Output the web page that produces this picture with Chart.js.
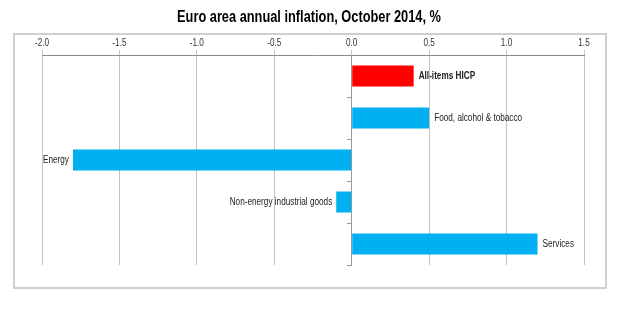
<!DOCTYPE html>
<html>
<head>
<meta charset="utf-8">
<title>Euro area annual inflation</title>
<script src="https://cdn.jsdelivr.net/npm/chart.js@4/dist/chart.umd.min.js"></script>
<style>
  html, body { margin: 0; padding: 0; background: #fff; }
  #wrap { width: 620px; height: 322px; }
</style>
</head>
<body>
<div id="wrap"><canvas id="inflationChart" width="620" height="322"></canvas></div>
<script>
"use strict";

let chartTitle = "Euro area annual inflation, October 2014, %";
let categories = ["All-items HICP", "Food, alcohol & tobacco", "Energy", "Non-energy industrial goods", "Services"];
let rates = [0.4, 0.5, -1.8, -0.1, 1.2];
let barColors = ["#ff0000", "#00b0f0", "#00b0f0", "#00b0f0", "#00b0f0"];
let xTicks = [-2.0, -1.5, -1.0, -0.5, 0.0, 0.5, 1.0, 1.5];

let fontFamily = "'Liberation Sans', Arial, sans-serif";

// no narrow face installed, so squeeze the text sideways instead
function narrowText(ctx, text, x, y, align, squeeze) {
  ctx.save();
  ctx.translate(x, y);
  ctx.scale(squeeze, 1);
  ctx.textAlign = align;
  ctx.fillText(text, 0, 0);
  ctx.restore();
}

// grey box round the plot, and the title above it
let frameBox = {
  id: "frameBox",
  beforeDraw(chart) {
    let ctx = chart.ctx;
    ctx.save();
    ctx.strokeStyle = "#cfcfcf";
    ctx.lineWidth = 2;
    ctx.strokeRect(14, 34, 592, 254);
    ctx.fillStyle = "#000";
    ctx.font = "bold 16px " + fontFamily;
    ctx.textBaseline = "alphabetic";
    narrowText(ctx, chartTitle, 309, 22, "center", 0.8);
    ctx.restore();
  }
};

// x tick labels along the top, and category names at the end of each bar
let narrowLabels = {
  id: "narrowLabels",
  afterDatasetsDraw(chart) {
    let ctx = chart.ctx;
    let xScale = chart.scales.x;
    let bars = chart.getDatasetMeta(0).data;
    ctx.save();
    ctx.textBaseline = "middle";

    ctx.fillStyle = "#333";
    ctx.font = "10px " + fontFamily;
    xTicks.forEach(function (v) {
      narrowText(ctx, v.toFixed(1), xScale.getPixelForValue(v), 43, "center", 0.82);
    });

    ctx.fillStyle = "#222";
    bars.forEach(function (bar, i) {
      ctx.font = (i === 0 ? "bold " : "") + "10px " + fontFamily;
      if (rates[i] >= 0) {
        narrowText(ctx, categories[i], bar.x + 5, bar.y, "left", 0.82);
      } else {
        narrowText(ctx, categories[i], bar.x - 4, bar.y, "right", 0.82);
      }
    });
    ctx.restore();
  }
};

let ctx = document.getElementById("inflationChart").getContext("2d");
let inflationChart = new Chart(ctx, {
  type: "bar",
  data: {
    labels: categories,
    datasets: [
      {
        data: rates,
        backgroundColor: barColors,
        borderWidth: 0,
        categoryPercentage: 1,
        barPercentage: 0.5,
      },
    ],
  },
  options: {
    indexAxis: "y",
    responsive: false,
    animation: false,
    layout: {
      padding: { left: 42, right: 36, top: 34, bottom: 57 },
    },
    plugins: {
      legend: { display: false },
      tooltip: { enabled: false },
      title: { display: false },
    },
    scales: {
      x: {
        position: "top",
        min: -2,
        max: 1.5,
        afterBuildTicks(axis) {
          axis.ticks = xTicks.map(function (v) { return { value: v }; });
        },
        ticks: {
          color: "rgba(0,0,0,0)",
          font: { family: fontFamily, size: 10 },
          padding: 2,
          maxRotation: 0,
          callback(value) { return Number(value).toFixed(1); },
        },
        grid: { color: "#c4c4c4", tickLength: 5 },
        border: { color: "#8a8a8a" },
      },
      y: {
        position: { x: 0 },
        ticks: { display: false },
        grid: { offset: true, drawOnChartArea: false, tickLength: 4, color: "#9a9a9a" },
        border: { color: "#9a9a9a" },
      },
    },
  },
  plugins: [frameBox, narrowLabels],
});
</script>
</body>
</html>
